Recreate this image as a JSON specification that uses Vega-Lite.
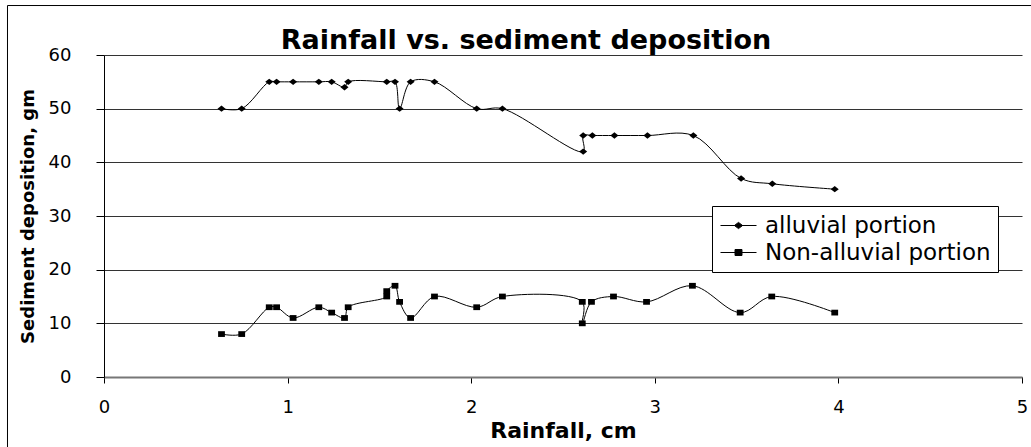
{
  "$schema": "https://vega.github.io/schema/vega-lite/v6.json",
  "width": 918,
  "height": 322,
  "autosize": "none",
  "padding": {"left": 104, "top": 55, "right": 9, "bottom": 70},
  "background": "white",
  "config": {
    "view": {"stroke": null},
    "font": "DejaVu Sans",
    "axisX": {
      "grid": false,
      "domainColor": "#777777",
      "domainWidth": 2,
      "tickColor": "black",
      "tickSize": 6,
      "labelFont": "DejaVu Sans",
      "labelFontSize": 18,
      "labelColor": "black",
      "labelPadding": 15,
      "labelFlush": false,
      "titleFont": "DejaVu Sans",
      "titleFontSize": 22,
      "titleFontWeight": "bold",
      "titleColor": "black",
      "titlePadding": 4
    },
    "axisY": {
      "grid": true,
      "gridColor": "#333333",
      "gridWidth": 1,
      "domainColor": "black",
      "tickColor": "black",
      "tickSize": 8,
      "labelFont": "DejaVu Sans",
      "labelFontSize": 18,
      "labelColor": "black",
      "labelPadding": 25,
      "labelFlush": false,
      "titleFont": "DejaVu Sans",
      "titleFontSize": 18,
      "titleFontWeight": "bold",
      "titleColor": "black",
      "titlePadding": 11
    }
  },
  "title": {
    "text": "Rainfall vs. sediment deposition",
    "font": "DejaVu Sans",
    "fontSize": 27,
    "fontWeight": "bold",
    "color": "black",
    "anchor": "middle",
    "baseline": "alphabetic",
    "offset": 0,
    "dx": -37,
    "dy": 71
  },
  "datasets": {
    "series": [
      {"series": "alluvial portion", "order": 1, "rain": 0.64, "sed": 50},
      {"series": "alluvial portion", "order": 2, "rain": 0.75, "sed": 50},
      {"series": "alluvial portion", "order": 3, "rain": 0.90, "sed": 55},
      {"series": "alluvial portion", "order": 4, "rain": 0.94, "sed": 55},
      {"series": "alluvial portion", "order": 5, "rain": 1.03, "sed": 55},
      {"series": "alluvial portion", "order": 6, "rain": 1.17, "sed": 55},
      {"series": "alluvial portion", "order": 7, "rain": 1.24, "sed": 55},
      {"series": "alluvial portion", "order": 8, "rain": 1.31, "sed": 54},
      {"series": "alluvial portion", "order": 9, "rain": 1.33, "sed": 55},
      {"series": "alluvial portion", "order": 10, "rain": 1.54, "sed": 55},
      {"series": "alluvial portion", "order": 11, "rain": 1.585, "sed": 55},
      {"series": "alluvial portion", "order": 12, "rain": 1.61, "sed": 50},
      {"series": "alluvial portion", "order": 13, "rain": 1.67, "sed": 55},
      {"series": "alluvial portion", "order": 14, "rain": 1.80, "sed": 55},
      {"series": "alluvial portion", "order": 15, "rain": 2.03, "sed": 50},
      {"series": "alluvial portion", "order": 16, "rain": 2.17, "sed": 50},
      {"series": "alluvial portion", "order": 17, "rain": 2.61, "sed": 42},
      {"series": "alluvial portion", "order": 18, "rain": 2.61, "sed": 45},
      {"series": "alluvial portion", "order": 19, "rain": 2.66, "sed": 45},
      {"series": "alluvial portion", "order": 20, "rain": 2.78, "sed": 45},
      {"series": "alluvial portion", "order": 21, "rain": 2.96, "sed": 45},
      {"series": "alluvial portion", "order": 22, "rain": 3.21, "sed": 45},
      {"series": "alluvial portion", "order": 23, "rain": 3.47, "sed": 37},
      {"series": "alluvial portion", "order": 24, "rain": 3.64, "sed": 36},
      {"series": "alluvial portion", "order": 25, "rain": 3.98, "sed": 35},
      {"series": "Non-alluvial portion", "order": 1, "rain": 0.64, "sed": 8},
      {"series": "Non-alluvial portion", "order": 2, "rain": 0.75, "sed": 8},
      {"series": "Non-alluvial portion", "order": 3, "rain": 0.90, "sed": 13},
      {"series": "Non-alluvial portion", "order": 4, "rain": 0.94, "sed": 13},
      {"series": "Non-alluvial portion", "order": 5, "rain": 1.03, "sed": 11},
      {"series": "Non-alluvial portion", "order": 6, "rain": 1.17, "sed": 13},
      {"series": "Non-alluvial portion", "order": 7, "rain": 1.24, "sed": 12},
      {"series": "Non-alluvial portion", "order": 8, "rain": 1.31, "sed": 11},
      {"series": "Non-alluvial portion", "order": 9, "rain": 1.33, "sed": 13},
      {"series": "Non-alluvial portion", "order": 10, "rain": 1.54, "sed": 15},
      {"series": "Non-alluvial portion", "order": 11, "rain": 1.54, "sed": 16},
      {"series": "Non-alluvial portion", "order": 12, "rain": 1.585, "sed": 17},
      {"series": "Non-alluvial portion", "order": 13, "rain": 1.61, "sed": 14},
      {"series": "Non-alluvial portion", "order": 14, "rain": 1.67, "sed": 11},
      {"series": "Non-alluvial portion", "order": 15, "rain": 1.80, "sed": 15},
      {"series": "Non-alluvial portion", "order": 16, "rain": 2.03, "sed": 13},
      {"series": "Non-alluvial portion", "order": 17, "rain": 2.17, "sed": 15},
      {"series": "Non-alluvial portion", "order": 18, "rain": 2.605, "sed": 14},
      {"series": "Non-alluvial portion", "order": 19, "rain": 2.605, "sed": 10},
      {"series": "Non-alluvial portion", "order": 20, "rain": 2.655, "sed": 14},
      {"series": "Non-alluvial portion", "order": 21, "rain": 2.775, "sed": 15},
      {"series": "Non-alluvial portion", "order": 22, "rain": 2.955, "sed": 14},
      {"series": "Non-alluvial portion", "order": 23, "rain": 3.205, "sed": 17},
      {"series": "Non-alluvial portion", "order": 24, "rain": 3.465, "sed": 12},
      {"series": "Non-alluvial portion", "order": 25, "rain": 3.637, "sed": 15},
      {"series": "Non-alluvial portion", "order": 26, "rain": 3.98, "sed": 12}
    ]
  },
  "layer": [
    {
      "data": {"values": [{"frame": 1}]},
      "mark": {"type": "rect", "filled": false, "stroke": "black", "strokeWidth": 1},
      "encoding": {
        "x": {
          "datum": -0.5256,
          "type": "quantitative",
          "scale": {"domain": [0, 5], "nice": false, "zero": false},
          "axis": {"title": "Rainfall, cm", "values": [0, 1, 2, 3, 4, 5], "format": "d"}
        },
        "x2": {"datum": 5.3},
        "y": {
          "datum": 69.22,
          "type": "quantitative",
          "scale": {"domain": [0, 60], "nice": false},
          "axis": {"title": "Sediment deposition, gm", "values": [0, 10, 20, 30, 40, 50, 60], "format": "d"}
        },
        "y2": {"datum": -16}
      }
    },
    {
      "data": {"name": "series"},
      "mark": {"type": "line", "interpolate": "catmull-rom", "strokeWidth": 1},
      "encoding": {
        "x": {
          "field": "rain",
          "type": "quantitative",
          "scale": {"domain": [0, 5], "nice": false, "zero": false},
          "axis": {"title": "Rainfall, cm", "values": [0, 1, 2, 3, 4, 5], "format": "d"}
        },
        "y": {
          "field": "sed",
          "type": "quantitative",
          "scale": {"domain": [0, 60], "nice": false},
          "axis": {"title": "Sediment deposition, gm", "values": [0, 10, 20, 30, 40, 50, 60], "format": "d"}
        },
        "stroke": {
          "field": "series",
          "type": "nominal",
          "scale": {
            "domain": ["alluvial portion", "Non-alluvial portion"],
            "range": ["black", "black"]
          },
          "legend": {
            "orient": "none",
            "legendX": 608,
            "legendY": 151,
            "title": null,
            "strokeColor": "black",
            "fillColor": "white",
            "padding": 7,
            "cornerRadius": 0,
            "labelFont": "DejaVu Sans",
            "labelFontSize": 23,
            "labelColor": "black",
            "labelOffset": 14,
            "labelLimit": 400,
            "rowPadding": 2,
            "symbolOffset": 7,
            "symbolSize": 576,
            "symbolStrokeWidth": 1,
            "symbolStrokeColor": "black",
            "symbolFillColor": "black",
            "symbolType": {"expr": "datum.value === 'alluvial portion' ? 'M-1.5,0H1.5M-0.34,0L0,-0.26L0.34,0L0,0.26Z' : 'M-1.5,0H1.5M-0.29,-0.25H0.29V0.25H-0.29Z'"}
          }
        },
        "detail": {"field": "series", "type": "nominal"},
        "order": {"field": "order", "type": "quantitative"}
      }
    },
    {
      "data": {"name": "series"},
      "transform": [{"filter": "datum.series === 'alluvial portion'"}],
      "mark": {"type": "point", "filled": true, "opacity": 1, "color": "black", "size": 64, "shape": "M-1,0L0,-0.8L1,0L0,0.8Z"},
      "encoding": {
        "x": {"field": "rain", "type": "quantitative"},
        "y": {"field": "sed", "type": "quantitative"}
      }
    },
    {
      "data": {"name": "series"},
      "transform": [{"filter": "datum.series === 'Non-alluvial portion'"}],
      "mark": {"type": "point", "filled": true, "opacity": 1, "color": "black", "size": 64, "shape": "M-0.85,-0.72H0.85V0.72H-0.85Z"},
      "encoding": {
        "x": {"field": "rain", "type": "quantitative"},
        "y": {"field": "sed", "type": "quantitative"}
      }
    }
  ]
}
